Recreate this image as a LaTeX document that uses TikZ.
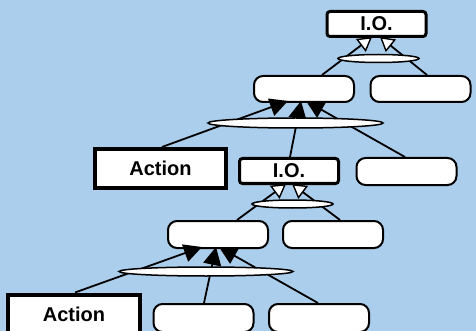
\documentclass[tikz,border=0pt]{standalone}
\usepackage{fontspec}
\setmainfont{Liberation Sans}
\usetikzlibrary{shapes.geometric,arrows.meta}
\definecolor{sky}{RGB}{171,206,236}
\begin{document}
\begin{tikzpicture}[x=1pt,y=-1pt,
  label font/.style={font=\fontsize{20}{24}\selectfont\bfseries},
  goal/.style={draw,fill=white,line width=2pt,rounded corners=9pt,inner sep=0pt,
    minimum width=100pt,minimum height=26pt},
  iobox/.style={draw,fill=white,line width=3pt,rounded corners=3pt,inner sep=0pt,
    minimum width=99pt,minimum height=25pt,label font},
  actbox/.style={draw,fill=white,line width=4pt,inner sep=0pt,
    minimum width=131pt,minimum height=39pt,label font},
  conj/.style={ellipse,draw,fill=white,line width=1.5pt,inner sep=0pt},
  link/.style={line width=1.8pt},
  openhead/.style={link,-{Triangle[length=14pt,width=16pt,line width=1.4pt,fill=white]}},
  solidhead/.style={link,-{Triangle[length=18pt,width=18pt]}}]

\useasboundingbox (0,0) rectangle (476,331);
\fill[sky] (0,0) rectangle (476,331);
\clip (0,0) rectangle (476,331);

% boxes, top to bottom
\node[iobox] (io1) at (376.5,24) {I.O.};
\node[goal] (a1) at (304,89) {};
\node[goal] (b1) at (420.5,89) {};

\node[actbox] (act1) at (160.5,168.5) {Action};
\node[iobox] (io2) at (289,171) {I.O.};
\node[goal,minimum height=27pt] (b2) at (406.5,171.5) {};

\node[goal,minimum height=27pt] (c3) at (218,234.5) {};
\node[goal,minimum height=27pt] (d3) at (333,234.5) {};

\node[actbox,minimum width=132pt] (act2) at (74,314) {Action};
\node[goal,minimum height=28pt] (m4) at (203.5,318) {};
\node[goal,minimum height=28pt] (r4) at (319,318) {};

% links from each part up to the whole it belongs to
\draw[openhead] ([xshift=18pt]a1.north) -- ([xshift=-4.5pt,yshift=1pt]io1.south);
\draw[openhead] ([xshift=6.5pt]b1.north) -- ([xshift=3.5pt,yshift=1pt]io1.south);

\draw[solidhead] ([xshift=1.5pt]act1.north) -- ([xshift=-16pt,yshift=2pt]a1.south);
\draw[solidhead] ([xshift=1pt]io2.north) -- ([xshift=-3pt,yshift=2pt]a1.south);
\draw[solidhead] ([xshift=-1.5pt]b2.north) -- ([xshift=2pt,yshift=2pt]a1.south);

\draw[openhead] ([xshift=19pt]c3.north) -- ([xshift=-3pt,yshift=1pt]io2.south);
\draw[openhead] ([xshift=7pt]d3.north) -- ([xshift=3pt,yshift=1pt]io2.south);

\draw[solidhead] ([xshift=1pt]act2.north) -- ([xshift=-16pt,yshift=2pt]c3.south);
\draw[solidhead] ([xshift=0.5pt]m4.north) -- ([xshift=-2pt,yshift=2pt]c3.south);
\draw[solidhead] ([xshift=-1pt]r4.north) -- ([xshift=1pt,yshift=2pt]c3.south);

% joining ellipses laid over the links
\node[conj,minimum width=81pt,minimum height=8pt] (e1) at (378.5,58.5) {};
\node[conj,minimum width=175pt,minimum height=10pt] (e2) at (295.5,123) {};
\node[conj,minimum width=81pt,minimum height=8pt] (e3) at (292.5,204) {};
\node[conj,minimum width=174pt,minimum height=9pt] (e4) at (206,271.5) {};
\end{tikzpicture}
\end{document}
